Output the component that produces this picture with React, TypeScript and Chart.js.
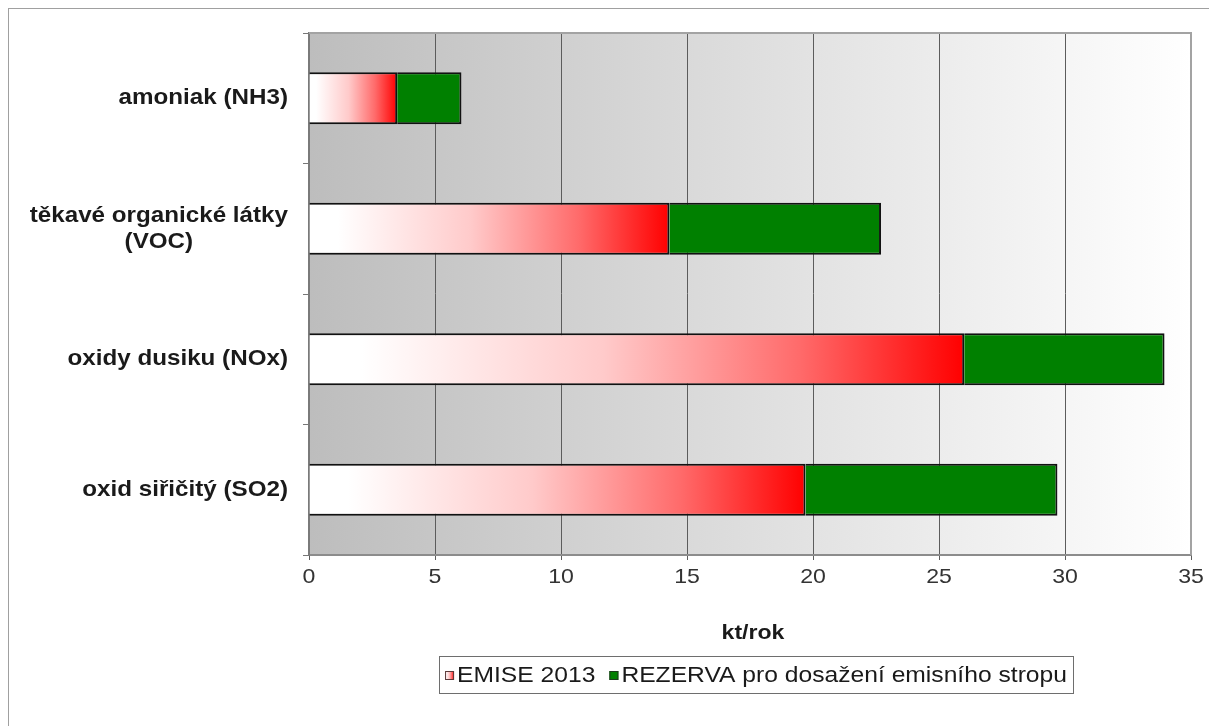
import React, { useEffect, useRef } from 'react';
import { Chart, registerables } from 'chart.js';

Chart.register(...registerables);

// ---- data ----
const categories: string[][] = [
  ['amoniak (NH3)'],
  ['těkavé organické látky', '(VOC)'],
  ['oxidy dusiku (NOx)'],
  ['oxid siřičitý (SO2)'],
];
const emise2013 = [3.5, 14.3, 26.0, 19.7];
const rezerva = [2.55, 8.4, 7.95, 10.0];
const seriesNames = ['EMISE 2013', 'REZERVA pro dosažení emisního stropu'];
const xMin = 0;
const xMax = 35;
const xStep = 5;
const xTitle = 'kt/rok';

// ---- styling helpers ----
const FONT = '"Liberation Sans", Arial, sans-serif';
const SX = 1.1; // horizontal stretch of the reference's text

function drawText(
  ctx: CanvasRenderingContext2D,
  text: string,
  x: number,
  y: number,
  align: CanvasTextAlign,
  font: string,
  color: string,
  sx: number = SX
) {
  ctx.save();
  ctx.font = font;
  ctx.fillStyle = color;
  ctx.textBaseline = 'middle';
  ctx.textAlign = align;
  ctx.translate(x, y);
  ctx.scale(sx, 1);
  ctx.fillText(text, 0, 0);
  ctx.restore();
}

function measure(ctx: CanvasRenderingContext2D, text: string, font: string, sx: number = SX) {
  ctx.save();
  ctx.font = font;
  const w = ctx.measureText(text).width * sx;
  ctx.restore();
  return w;
}

function redGradient(ctx: CanvasRenderingContext2D, x0: number, x1: number) {
  const g = ctx.createLinearGradient(x0, 0, x1, 0);
  g.addColorStop(0, '#ffffff');
  g.addColorStop(0.08, '#ffffff');
  g.addColorStop(0.45, '#ffcaca');
  g.addColorStop(0.75, '#ff6a6a');
  g.addColorStop(1, '#ff0000');
  return g;
}

const decor = {
  id: 'decor',
  beforeDraw(chart: any) {
    const { ctx, chartArea: a } = chart;
    if (!a) return;
    const g = ctx.createLinearGradient(a.left, 0, a.right, 0);
    g.addColorStop(0, '#bdbdbd');
    g.addColorStop(1, '#ffffff');
    ctx.save();
    ctx.fillStyle = g;
    ctx.fillRect(a.left, a.top, a.right - a.left, a.bottom - a.top);
    ctx.restore();
  },
  afterDraw(chart: any) {
    const { ctx, chartArea: a } = chart;
    const xs = chart.scales.x;
    const ys = chart.scales.y;

    // top & right frame of plot area
    ctx.save();
    ctx.strokeStyle = '#a3a3a3';
    ctx.lineWidth = 2;
    ctx.beginPath();
    ctx.moveTo(a.left, a.top);
    ctx.lineTo(a.right, a.top);
    ctx.lineTo(a.right, a.bottom);
    ctx.stroke();
    ctx.restore();

    // category labels
    const catFont = `bold 22px ${FONT}`;
    const rightX = a.left - 21;
    const lh = 26;
    categories.forEach((lines, i) => {
      const cy = ys.getPixelForTick(i);
      const widths = lines.map((l) => measure(ctx, l, catFont));
      const maxW = Math.max(...widths);
      lines.forEach((ln, j) => {
        const ly = cy + (j - (lines.length - 1) / 2) * lh;
        if (lines.length === 1) {
          drawText(ctx, ln, rightX, ly, 'right', catFont, '#1a1a1a');
        } else {
          drawText(ctx, ln, rightX - maxW / 2, ly, 'center', catFont, '#1a1a1a');
        }
      });
    });

    // x tick labels
    const tickFont = `21px ${FONT}`;
    xs.ticks.forEach((t: any) => {
      drawText(ctx, String(t.value), xs.getPixelForValue(t.value), a.bottom + 22, 'center', tickFont, '#333333');
    });

    // x title
    const mid = (a.left + a.right) / 2;
    drawText(ctx, xTitle, mid + 3, a.bottom + 78, 'center', `bold 21px ${FONT}`, '#1a1a1a');

    // legend
    const legFont = `22px ${FONT}`;
    const lsx = 1.12;
    const sq = 9;
    const gapSqText = 3;
    const gapItems = 14;
    const pad = 6;
    const w0 = measure(ctx, seriesNames[0], legFont, lsx);
    const w1 = measure(ctx, seriesNames[1], legFont, lsx);
    const contentW = sq + gapSqText + w0 + gapItems + sq + gapSqText + w1;
    const boxW = contentW + pad * 2;
    const boxH = 37;
    const boxX = mid + 6 - boxW / 2;
    const boxY = a.bottom + 101;
    ctx.save();
    ctx.fillStyle = '#ffffff';
    ctx.fillRect(boxX, boxY, boxW, boxH);
    ctx.strokeStyle = '#6e6e6e';
    ctx.lineWidth = 1;
    ctx.strokeRect(Math.round(boxX) + 0.5, Math.round(boxY) + 0.5, Math.round(boxW), boxH);
    const cy = boxY + boxH / 2 + 1;
    let x = boxX + pad;
    // item 1
    ctx.fillStyle = redGradient(ctx, x, x + sq);
    ctx.fillRect(x, cy - sq / 2, sq, sq);
    ctx.strokeStyle = '#5a3a3a';
    ctx.strokeRect(x + 0.5, cy - sq / 2 + 0.5, sq - 1, sq - 1);
    x += sq + gapSqText;
    drawText(ctx, seriesNames[0], x, cy, 'left', legFont, '#1a1a1a', lsx);
    x += w0 + gapItems;
    // item 2
    ctx.fillStyle = '#008000';
    ctx.fillRect(x, cy - sq / 2, sq, sq);
    ctx.strokeStyle = '#1e3a1e';
    ctx.strokeRect(x + 0.5, cy - sq / 2 + 0.5, sq - 1, sq - 1);
    x += sq + gapSqText;
    drawText(ctx, seriesNames[1], x, cy, 'left', legFont, '#1a1a1a', lsx);
    ctx.restore();
  },
};

export default function App() {
  const ref = useRef<HTMLCanvasElement | null>(null);

  useEffect(() => {
    if (!ref.current) return;
    const chart = new Chart(ref.current, {
      type: 'bar',
      data: {
        labels: categories.map((c) => c.join(' ')),
        datasets: [
          {
            label: seriesNames[0],
            data: emise2013,
            backgroundColor: (c: any) => {
              const ch = c.chart;
              if (!ch.chartArea || c.raw == null) return '#ff0000';
              const xs = ch.scales.x;
              return redGradient(ch.ctx, xs.getPixelForValue(0), xs.getPixelForValue(c.raw as number));
            },
            borderColor: '#111111',
            borderWidth: 2,
            borderSkipped: 'start',
            categoryPercentage: 1,
            barPercentage: 0.4,
          },
          {
            label: seriesNames[1],
            data: rezerva,
            backgroundColor: '#008000',
            borderColor: '#111111',
            borderWidth: 2,
            borderSkipped: 'start',
            categoryPercentage: 1,
            barPercentage: 0.4,
          },
        ],
      },
      options: {
        indexAxis: 'y',
        responsive: false,
        animation: false,
        devicePixelRatio: 1,
        layout: { padding: { left: 0, right: 26, top: 24, bottom: 71 } },
        plugins: {
          legend: { display: false },
          tooltip: { enabled: false },
          title: { display: false },
        },
        scales: {
          x: {
            stacked: true,
            min: xMin,
            max: xMax,
            ticks: { stepSize: xStep, display: false },
            grid: {
              color: '#5c5c5c',
              lineWidth: 1,
              tickLength: 5,
              drawOnChartArea: true,
              drawTicks: true,
            },
            border: { display: true, color: '#8c8c8c', width: 2 },
            afterFit: (s: any) => {
              s.height = 100;
            },
          },
          y: {
            stacked: true,
            ticks: { display: false },
            grid: {
              offset: true,
              drawOnChartArea: false,
              drawTicks: true,
              tickLength: 6,
              color: '#777777',
            },
            border: { display: true, color: '#7a7a7a', width: 2 },
            afterFit: (s: any) => {
              s.width = 300;
            },
          },
        },
      },
      plugins: [decor],
    });
    return () => chart.destroy();
  }, []);

  return (
    <div
      style={{
        width: 1209,
        height: 718,
        boxSizing: 'border-box',
        borderTop: '1px solid #a0a0a0',
        borderLeft: '1px solid #a0a0a0',
        background: '#ffffff',
      }}
    >
      <canvas ref={ref} width={1208} height={717} style={{ display: 'block', width: 1208, height: 717 }} />
    </div>
  );
}
